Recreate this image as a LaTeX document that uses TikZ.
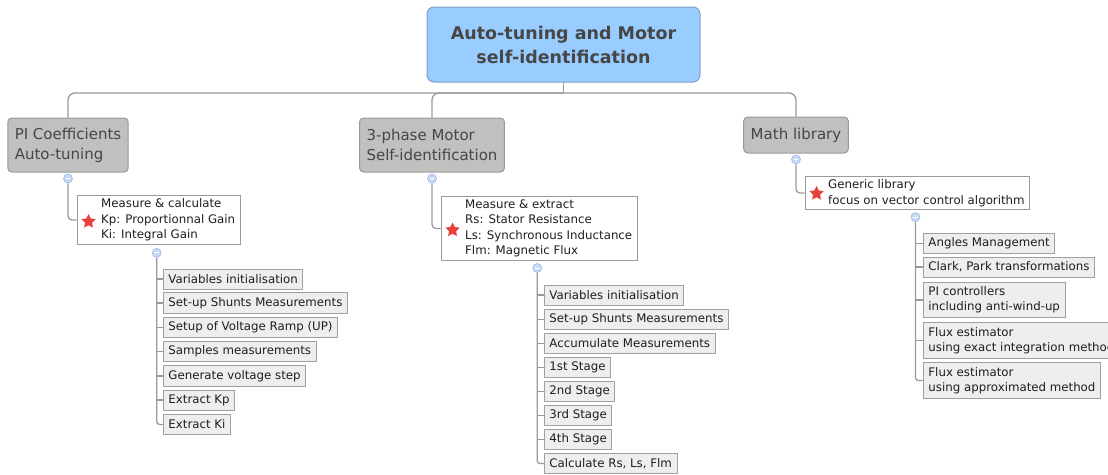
\documentclass[tikz,border=0pt]{standalone}
\usepackage{fontspec}
\setmainfont{DejaVu Sans}
\usetikzlibrary{shapes.geometric,fit,calc}
\definecolor{rootfill}{HTML}{99CCFF}
\definecolor{rootdraw}{HTML}{7F9FC4}
\definecolor{grayfill}{HTML}{C0C0C0}
\definecolor{graydraw}{HTML}{9A9A9A}
\definecolor{itemfill}{HTML}{EEEEEE}
\definecolor{itemdraw}{HTML}{A0A0A0}
\definecolor{linecol}{HTML}{9A9A9A}
\definecolor{txt}{HTML}{1E1E1E}
\definecolor{darktxt}{HTML}{464646}
\definecolor{circfill}{HTML}{C8DAF5}
\definecolor{circdraw}{HTML}{9DB9E6}
\definecolor{starred}{HTML}{E8403A}
\begin{document}
\begin{tikzpicture}[x=1pt,y=-1pt,
  rootbox/.style={draw=rootdraw, fill=rootfill, rounded corners=7pt, line width=1pt,
    minimum width=273pt, minimum height=75pt, align=center,
    font=\fontsize{17.5}{24}\selectfont\bfseries, text=darktxt},
  topbox/.style={draw=graydraw, fill=grayfill, rounded corners=4pt, line width=1pt,
    align=left, font=\fontsize{15}{20}\selectfont, text=darktxt, inner xsep=7pt},
  childtxt/.style={align=left, font=\fontsize{11.8}{15.5}\selectfont, text=txt,
    inner xsep=5pt, inner ysep=3pt, anchor=west},
  childbox/.style={draw=graydraw, line width=0.9pt, inner sep=0pt},
  itembox/.style={draw=itemdraw, fill=itemfill, line width=0.9pt, align=left,
    font=\fontsize{11.8}{15}\selectfont, text=txt, inner xsep=5pt, inner ysep=4.5pt,
    minimum height=20pt, anchor=west},
  conn/.style={draw=linecol, line width=1.3pt},
  collapse/.style={circle, draw=circdraw, fill=circfill, line width=0.6pt,
    minimum size=9pt, inner sep=0pt,
    path picture={\draw[white, line width=0.9pt]
      ([xshift=-2.3pt]path picture bounding box.center) --
      ([xshift=2.3pt]path picture bounding box.center);}},
  starnode/.style={star, star points=5, star point ratio=2.0, fill=starred,
    minimum size=15pt, inner sep=0pt}
]
\useasboundingbox (0,0) rectangle (1108,474);

% root
\node[rootbox] (root) at (563.5,44.5) {Auto-tuning and Motor\\self-identification};

% top level
\node[topbox, minimum height=54pt] (pi) at (68,145) {PI Coefficients\\Auto-tuning};
\node[topbox, minimum height=54pt] (mot) at (432,145) {3-phase Motor\\Self-identification};
\node[topbox, minimum height=36pt] (math) at (796,135) {Math library};

\coordinate (bus) at (563.5,93);
\draw[conn] (root.south) -- (bus);
\draw[conn, rounded corners=7pt] (pi.north) |- (bus) -| (math.north);
\draw[conn, rounded corners=7pt] (mot.north) |- (bus);

\node[collapse] (pic0) at ($(pi.south)+(0,6)$) {};
\node[collapse] (motc0) at ($(mot.south)+(0,6)$) {};
\node[collapse] (mathc0) at ($(math.south)+(0,6)$) {};

% child boxes
\coordinate (picl) at (77,220);
\coordinate (motcl) at (441,228.5);
\coordinate (mathcl) at (805,193);
\node[childtxt] (pitx) at (96,220) {Measure \& calculate\\Kp: Proportionnal Gain\\Ki: Integral Gain};
\node[childbox, fit=(pitx)(picl)] (pic) {};
\node[starnode] (pis) at ($(pic.west)+(12,1.5)$) {};

\node[childtxt] (mottx) at (460,228.5) {Measure \& extract\\Rs: Stator Resistance\\Ls: Synchronous Inductance\\Flm: Magnetic Flux};
\node[childbox, fit=(mottx)(motcl)] (motc) {};
\node[starnode] (mots) at ($(motc.west)+(12,1.5)$) {};

\node[childtxt] (mathtx) at (823,193) {Generic library\\focus on vector control algorithm};
\node[childbox, fit=(mathtx)(mathcl)] (mathc) {};
\node[starnode] (maths) at ($(mathc.west)+(12,0.5)$) {};

\draw[conn, rounded corners=4pt] (pic0.south) |- (pic.west);
\draw[conn, rounded corners=4pt] (motc0.south) |- (motc.west);
\draw[conn, rounded corners=4pt] (mathc0.south) |- (mathc.west);

\node[collapse] (pil0) at ($(pic.south)+(-2,8)$) {};
\node[collapse] (motl0) at ($(motc.south)+(-2,7)$) {};
\node[collapse] (mathl0) at ($(mathc.south)+(-2,7)$) {};

% PI items
\node[itembox] (pi1) at (163,279) {Variables initialisation};
\node[itembox] (pi2) at (163,303) {Set-up Shunts Measurements};
\node[itembox] (pi3) at (163,327.5) {Setup of Voltage Ramp (UP)};
\node[itembox] (pi4) at (163,351.5) {Samples measurements};
\node[itembox] (pi5) at (163,376) {Generate voltage step};
\node[itembox] (pi6) at (163,400) {Extract Kp};
\node[itembox] (pi7) at (163,424.5) {Extract Ki};
\draw[conn, rounded corners=3pt] (pil0.south) |- (pi7.west);
\foreach \i in {1,...,6} \draw[conn] (pi\i.west) -- (pi\i.west -| pil0.south);

% Motor items
\node[itembox] (m1) at (544,295) {Variables initialisation};
\node[itembox] (m2) at (544,319.5) {Set-up Shunts Measurements};
\node[itembox] (m3) at (544,343.5) {Accumulate Measurements};
\node[itembox] (m4) at (544,367.5) {1st Stage};
\node[itembox] (m5) at (544,391.5) {2nd Stage};
\node[itembox] (m6) at (544,415.5) {3rd Stage};
\node[itembox] (m7) at (544,439.5) {4th Stage};
\node[itembox] (m8) at (544,463.5) {Calculate Rs, Ls, Flm};
\draw[conn, rounded corners=3pt] (motl0.south) |- (m8.west);
\foreach \i in {1,...,7} \draw[conn] (m\i.west) -- (m\i.west -| motl0.south);

% Math items
\node[itembox] (a1) at (923,243.5) {Angles Management};
\node[itembox] (a2) at (923,267) {Clark, Park transformations};
\node[itembox] (a3) at (923,300) {PI controllers\\including anti-wind-up};
\node[itembox] (a4) at (923,340.5) {Flux estimator\\using exact integration method};
\node[itembox] (a5) at (923,380.5) {Flux estimator\\using approximated method};
\draw[conn, rounded corners=3pt] (mathl0.south) |- (a5.west);
\foreach \i in {1,...,4} \draw[conn] (a\i.west) -- (a\i.west -| mathl0.south);
\end{tikzpicture}
\end{document}
